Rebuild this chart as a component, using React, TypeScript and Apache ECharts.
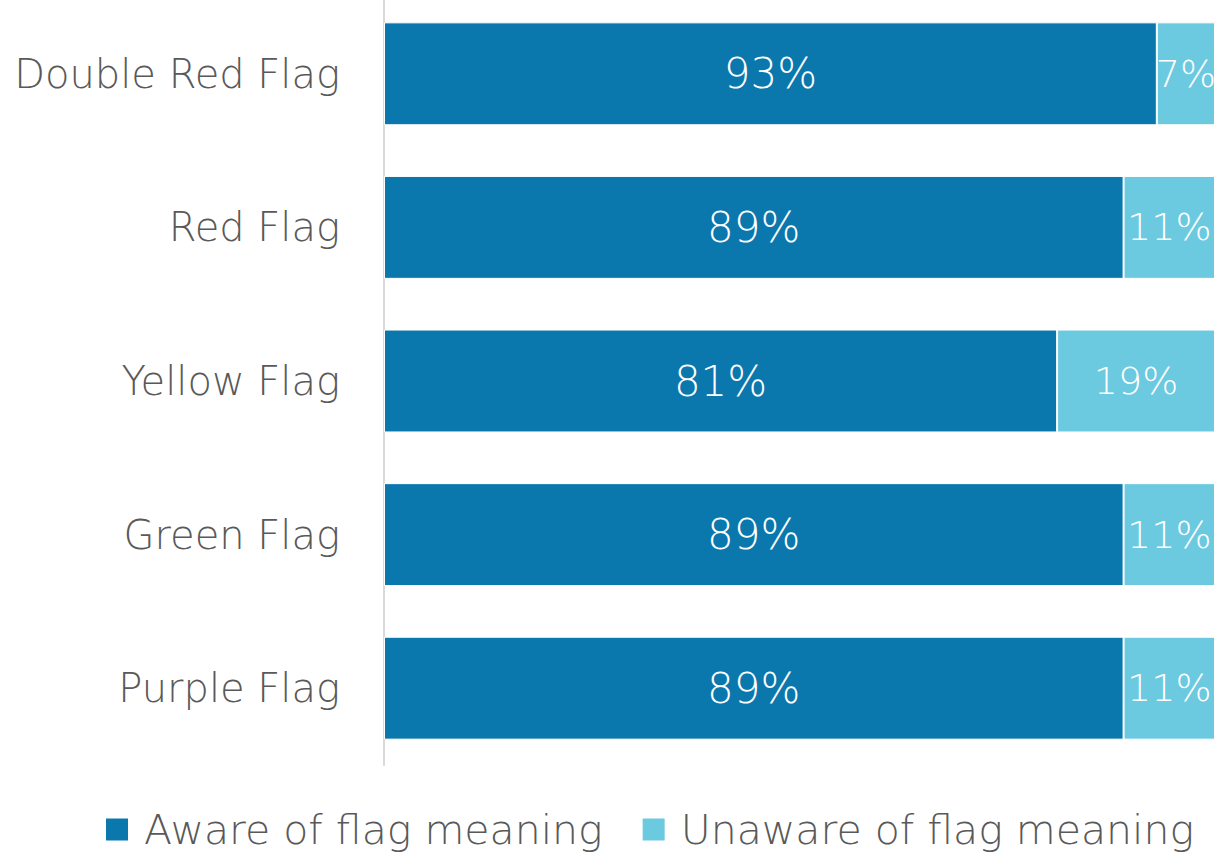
import React, { useEffect, useRef } from "react";
import * as echarts from "echarts";

const categories = ["Double Red Flag", "Red Flag", "Yellow Flag", "Green Flag", "Purple Flag"];
const aware = [93, 89, 81, 89, 89];
const unaware = [7, 11, 19, 11, 11];
const seriesNames = ["Aware of flag meaning", "Unaware of flag meaning"];

const FONT = "'DejaVu Sans', sans-serif";
const WEIGHT = 200;

export default function App() {
  const ref = useRef<HTMLDivElement>(null);
  useEffect(() => {
    document.body.style.margin = "0";
    const chart = echarts.init(ref.current!, undefined, { renderer: "svg" });
    const makeLabel = (size: number) => ({
      show: true,
      position: "inside",
      color: "#ffffff",
      fontSize: size,
      fontWeight: WEIGHT,
      fontFamily: FONT,
      formatter: (p: any) => p.value + "%",
    });
    chart.setOption({
      animation: false,
      textStyle: { fontFamily: FONT },
      grid: { left: 384, right: 0, top: 0, height: 768 },
      xAxis: {
        type: "value",
        min: 0,
        max: 100,
        show: false,
      },
      yAxis: {
        type: "category",
        data: categories,
        inverse: true,
        axisLine: { show: true, lineStyle: { color: "#d9d9d9", width: 2 } },
        axisTick: { show: false },
        axisLabel: { color: "#595959", fontSize: 40, fontWeight: WEIGHT, fontFamily: FONT, margin: 44 },
      },
      legend: {
        bottom: 0,
        left: 99,
        itemWidth: 24,
        itemHeight: 24,
        itemGap: 38,
        icon: "rect",
        textStyle: { color: "#595959", fontSize: 41, fontWeight: WEIGHT, fontFamily: FONT, padding: [0, 0, 0, 10] },
        data: seriesNames,
      },
      series: [
        {
          name: seriesNames[0],
          type: "bar",
          stack: "total",
          data: aware,
          barCategoryGap: "33%",
          itemStyle: { color: "#0A77AD", borderColor: "#ffffff", borderWidth: 1 },
          label: makeLabel(42),
        },
        {
          name: seriesNames[1],
          type: "bar",
          stack: "total",
          data: unaware,
          itemStyle: { color: "#6BC9E0", borderColor: "#ffffff", borderWidth: 1 },
          label: makeLabel(38),
        },
      ],
    });
    return () => chart.dispose();
  }, []);
  return <div ref={ref} style={{ width: 1215, height: 858, position: "relative", top: -3 }} />;
}
